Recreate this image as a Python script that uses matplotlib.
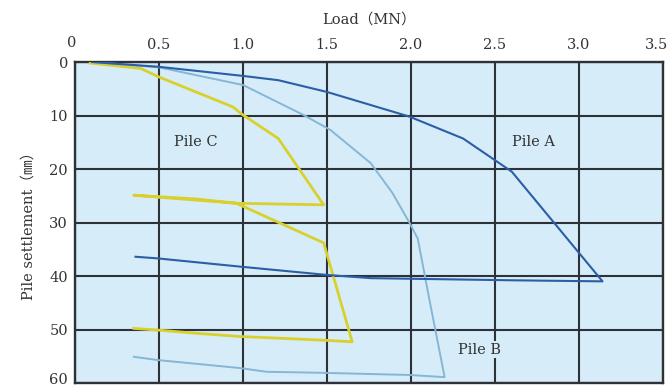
import matplotlib
matplotlib.use('Agg')
import matplotlib.pyplot as plt
from matplotlib.transforms import ScaledTranslation

# load (MN) vs settlement (mm)
pile_a_load = [0.10, 0.50, 1.00, 1.21, 1.50, 1.99, 2.31, 2.60, 3.14, 2.60, 1.76, 1.50, 1.00, 0.49, 0.36]
pile_a_settle = [0.0, 0.9, 2.6, 3.4, 5.6, 10.2, 14.3, 20.5, 41.0, 40.8, 40.4, 39.8, 38.3, 36.7, 36.4]

pile_b_load = [0.10, 0.50, 1.00, 1.36, 1.52, 1.76, 1.89, 1.99, 2.04, 2.11, 2.20, 1.99, 1.48, 1.14, 0.98, 0.49, 0.35]
pile_b_settle = [0.0, 1.0, 4.3, 9.9, 12.7, 18.9, 24.5, 30.0, 33.0, 44.5, 58.9, 58.5, 58.1, 57.9, 57.2, 55.7, 55.1]

pile_c_load = [0.09, 0.39, 0.50, 0.94, 1.00, 1.21, 1.48, 0.96, 0.35, 0.72, 0.96, 1.48, 1.65, 1.48, 0.98, 0.72, 0.49, 0.35]
pile_c_settle = [0.2, 1.2, 2.8, 8.4, 9.9, 14.3, 26.7, 26.4, 24.9, 25.6, 26.4, 33.8, 52.3, 52.0, 51.3, 50.7, 50.1, 49.8]

x_ticks = [0, 0.5, 1.0, 1.5, 2.0, 2.5, 3.0, 3.5]
x_labels = ['0', '0.5', '1.0', '1.5', '2.0', '2.5', '3.0', '3.5']
y_ticks = [0, 10, 20, 30, 40, 50, 60]

serif = ['DejaVu Serif', 'Noto Sans CJK JP']
plt.rcParams['font.family'] = serif
txt = '#333333'

fig = plt.figure(figsize=(6.71, 3.89), dpi=100)
ax = fig.add_axes([0.1118, 0.0154, 0.8763, 0.8252])
ax.set_facecolor('#d6edf9')

ax.plot(pile_c_load, pile_c_settle, color='#d9d02e', lw=2.0, zorder=3)
ax.plot(pile_b_load, pile_b_settle, color='#86b6d6', lw=1.4, zorder=3)
ax.plot(pile_a_load, pile_a_settle, color='#2b5ea6', lw=1.5, zorder=4)

ax.set_xlim(0, 3.5)
ax.set_ylim(60, 0)
ax.xaxis.tick_top()
ax.xaxis.set_label_position('top')
ax.set_xticks(x_ticks)
ax.set_xticklabels(x_labels)
ax.set_yticks(y_ticks)
ax.tick_params(length=0, labelsize=10.5, colors=txt, pad=5)
ax.tick_params(axis='x', pad=7)
ax.grid(True, color='#2e3238', lw=1.5)
ax.set_axisbelow(True)
for s in ax.spines.values():
    s.set_color('#2e3238')
    s.set_linewidth(1.7)

# edge labels sit right on the figure border, nudge them inside
last = ax.get_yticklabels()[-1]
last.set_transform(last.get_transform() + ScaledTranslation(0, 0.05, fig.dpi_scale_trans))
right = ax.get_xticklabels()[-1]
right.set_transform(right.get_transform() + ScaledTranslation(-0.07, 0, fig.dpi_scale_trans))
first = ax.get_xticklabels()[0]
first.set_transform(first.get_transform() + ScaledTranslation(-0.03, 0.02, fig.dpi_scale_trans))

ax.set_xlabel('Load（MN）', fontsize=10.5, color=txt, labelpad=9)
ax.set_ylabel('Pile settlement（㎜）', fontsize=10.5, color=txt, labelpad=10)

ax.text(0.72, 15, 'Pile C', fontsize=10.5, color=txt, ha='center', va='center')
ax.text(2.73, 15, 'Pile A', fontsize=10.5, color=txt, ha='center', va='center')
ax.text(2.41, 53.8, 'Pile B', fontsize=10.5, color=txt, ha='center', va='center',
        bbox=dict(facecolor='#d6edf9', edgecolor='none', pad=1), zorder=5)

plt.savefig('out.png', dpi=100)
